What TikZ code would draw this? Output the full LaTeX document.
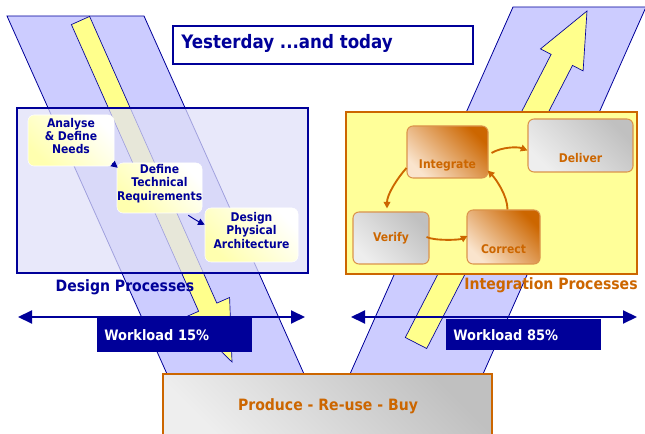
\documentclass[tikz,border=0pt]{standalone}
\usepackage{fontspec}
\setmainfont{DejaVu Sans}[FakeStretch=0.9]
\usetikzlibrary{arrows.meta,fit,calc}
\newdimen\pxu \pxu=0.75pt
\definecolor{dblue}{RGB}{0,0,153}
\definecolor{bandc}{RGB}{204,204,255}
\definecolor{orng}{RGB}{204,102,0}
\definecolor{lyel}{RGB}{255,255,153}
\definecolor{ayel}{RGB}{255,255,140}
\definecolor{boxlav}{RGB}{223,223,248}
\definecolor{peach}{RGB}{250,228,205}
\definecolor{lgrey}{RGB}{238,238,238}
\definecolor{mgrey}{RGB}{192,192,192}
\tikzset{
  bandst/.style={fill=bandc, draw=dblue, line width=0.6pt},
  arrowst/.style={fill=ayel, draw=dblue, line width=0.5pt, line join=miter},
  ynode/.style={rounded corners=6\pxu, inner sep=0pt, top color=white, bottom color={rgb,255:red,255;green,255;blue,175}, shading angle=-45, draw=white, text=dblue, align=center, font=\bfseries\fontsize{9}{10}\selectfont},
  onode/.style={rounded corners=6\pxu, inner sep=0pt, top color=orng, bottom color=peach, shading angle=-45, draw=orng!70, line width=0.8pt, text=orng, font=\bfseries\fontsize{9}{10}\selectfont},
  gnode/.style={rounded corners=6\pxu, inner sep=0pt, top color=mgrey, bottom color=lgrey, shading angle=-45, draw=orng!70, line width=0.8pt, text=orng, font=\bfseries\fontsize{9}{10}\selectfont},
  oarr/.style={draw=orng, line width=1.4pt, -{Triangle[length=5pt,width=5pt]}},
  barr/.style={draw=dblue, line width=0.7pt, -{Triangle[length=5pt,width=5pt]}},
  warr/.style={draw=dblue, line width=1.5pt, {Triangle[length=10.5pt,width=9.75pt]}-{Triangle[length=10.5pt,width=9.75pt]}},
  wbox/.style={fill=dblue, text=white, anchor=north west, minimum height=34\pxu, text width=141\pxu, inner xsep=7\pxu, inner ysep=0pt, align=left, font=\bfseries\fontsize{10.8}{12}\selectfont},
  lbl/.style={font=\bfseries\fontsize{11.7}{13}\selectfont}
}
\newcommand{\lowtext}[2]{\raisebox{-#1\pxu}[0pt][0pt]{#2}}
\begin{document}
\begin{tikzpicture}[x=0.75pt,y=-0.75pt]
\useasboundingbox (0,0) rectangle (645,434);
% bands
\draw[bandst] (7,16) -- (144,16) -- (304,374) -- (167,374) -- cycle;
\draw[bandst] (513,7) -- (646,7) -- (483,374) -- (350,374) -- cycle;
% yellow arrows
\draw[arrowst] (89.6,16.4) -- (216.8,303.1) -- (229.6,297.5) -- (232,362) -- (185.8,316.9) -- (198.6,311.3) -- (71.4,24.6) -- cycle;
\draw[arrowst] (426.7,348.5) -- (572.5,65.4) -- (583.1,70.9) -- (587,11) -- (540.5,48.9) -- (551.1,54.4) -- (405.3,337.5) -- cycle;
% title
\draw[dblue, line width=1.2pt, fill=white] (173,26) rectangle (473,64);
\node[anchor=west, text=dblue, font=\bfseries\fontsize{13.9}{15}\selectfont, inner sep=0pt] (title) at (181,43) {Yesterday ...and today};
% design box
\fill[boxlav, fill opacity=0.72] (17,108) rectangle (308,273);
\draw[dblue, line width=1.6pt] (17,108) rectangle (308,273);
% integration box
\draw[orng, fill=lyel, line width=1.6pt] (346,112) rectangle (637,274);
% design nodes
\node[ynode, fit={(28,115) (114,166)}] (an) {Analyse\\\& Define\\Needs};
\node[ynode, fit={(117,163) (202,213)}] (dtr) {Define\\Technical\\Requirements};
\node[ynode, fit={(205,208) (298,262)}] (dpa) {Design\\Physical\\Architecture};
\draw[barr] ($(an.south east)+(-2,-3)$) -- ($(dtr.north west)+(1,5)$);
\draw[barr] ($(dtr.south east)+(-14,2)$) .. controls +(6,4) and +(-6,-3) .. ($(dpa.north west)+(0,17)$);
% integration nodes
\node[onode, fit={(407,126) (488,178)}] (int) {\lowtext{17}{Integrate}};
\node[gnode, fit={(528,119) (633,172)}] (del) {\lowtext{17.5}{Deliver}};
\node[gnode, fit={(353,212) (429,264)}] (ver) {\lowtext{4}{Verify}};
\node[onode, fit={(467,210) (540,264)}] (cor) {\lowtext{17}{Correct}};
\draw[oarr] ($(int.east)+(3,1)$) .. controls +(10,-6) and +(-10,-4) .. ($(del.west)+(0,5)$);
\draw[oarr] ($(int.west)+(0,16)$) .. controls +(-9,10) and +(0,-14) .. ($(ver.north)+(-4,-3)$);
\draw[oarr] ($(ver.east)+(-3,-1)$) .. controls +(8,4) and +(-8,4) .. ($(cor.west)+(1,-1)$);
\draw[oarr] ($(cor.north)+(4,0)$) .. controls +(0,-14) and +(8,8) .. ($(int.south east)+(-1,-8)$);
% labels
\node[lbl, text=dblue] (dp) at (125,287) {Design Processes};
\node[lbl, text=orng] (ip) at (551,285) {Integration Processes};
% workload
\coordinate (la) at (18,317); \coordinate (lb) at (305,317);
\coordinate (ra) at (351,317); \coordinate (rb) at (637,317);
\draw[warr] (la) -- (lb);
\draw[warr] (ra) -- (rb);
\node[wbox] (w1) at (97,318) {Workload 15\%};
\node[wbox, minimum height=31\pxu] (w2) at (446,319) {Workload 85\%};
% produce
\node[fit={(163,374) (492,440)}, inner sep=0pt, top color=mgrey, bottom color=lgrey, shading angle=-45, draw=orng, line width=1.6pt] (prod) {};
\node[text=orng, lbl] (pt) at (328,406) {Produce - Re-use - Buy};
\end{tikzpicture}
\end{document}
